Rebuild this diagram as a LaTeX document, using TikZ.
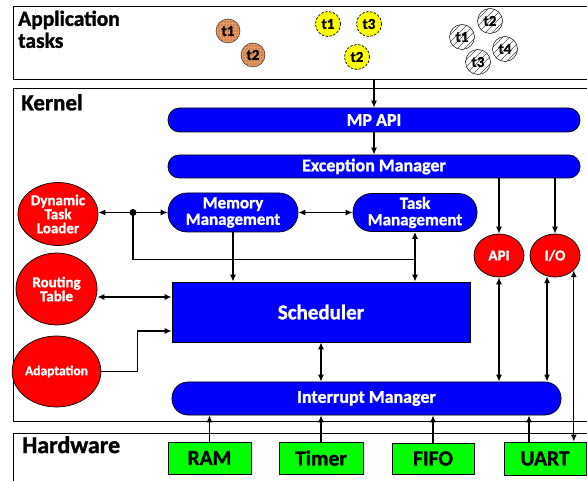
\documentclass[tikz,border=0pt]{standalone}
\usepackage{fontspec}
\setmainfont{Carlito}[BoldFeatures={FakeBold=1.3}]
\usetikzlibrary{shapes.geometric,arrows.meta}
\definecolor{kblue}{RGB}{0,0,255}
\definecolor{kred}{RGB}{255,0,0}
\definecolor{kgreen}{RGB}{0,255,0}
\definecolor{korange}{RGB}{240,152,92}
\definecolor{kyellow}{RGB}{255,255,0}
\begin{document}
\begin{tikzpicture}[x=1pt,y=-1pt,
  every node/.style={font=\bfseries},
  frame/.style={draw=black, line width=1pt},
  pill/.style={draw=black, line width=0.7pt, fill=kblue, text=white, rounded corners=#1, inner sep=0pt, align=center},
  redball/.style={ellipse, draw=black, line width=0.7pt, fill=kred, text=white, inner sep=0pt, align=center, font=\bfseries\fontsize{15}{14}\selectfont},
  hwbox/.style={rectangle, draw=black, line width=0.7pt, fill=kgreen, text=black, inner sep=0pt, font=\bfseries\fontsize{21.5}{21.5}\selectfont},
  otask/.style={circle, draw=black!80, line width=0.5pt, fill=korange, minimum size=24pt, inner sep=0pt, font=\bfseries\fontsize{15}{15}\selectfont,
    path picture={\foreach \a in {-12,-9,...,12} \foreach \b in {-12,-9,...,12} \fill[black!75] ([xshift=\a, yshift=\b]path picture bounding box.center) circle (0.55pt);}},
  ytask/.style={circle, draw=black, dash pattern=on 2.5pt off 1.5pt, line width=0.7pt, fill=kyellow, minimum size=25pt, inner sep=0pt, font=\bfseries\fontsize{15}{15}\selectfont},
  htask/.style={circle, draw=black, line width=0.5pt, fill=white, minimum size=25pt, inner sep=0pt, font=\bfseries\fontsize{15}{15}\selectfont,
    path picture={\foreach \i in {-21,-14,...,21} \draw[black!70, line width=0.45pt] ([xshift=\i-14, yshift=-14]path picture bounding box.center) -- ([xshift=\i+14, yshift=14]path picture bounding box.center);}},
  title/.style={anchor=north west, align=left, inner sep=0pt},
  conn/.style={line width=1.3pt},
  arr/.style={line width=1.3pt, -{Latex[length=7pt,width=6pt]}},
  darr/.style={line width=1.3pt, {Latex[length=7pt,width=6pt]}-{Latex[length=7pt,width=6pt]}}
]
\useasboundingbox (0,0) rectangle (587,481);
\clip (0,0) rectangle (587,481);
\fill[white] (0,0) rectangle (587,481);

% section frames
\node[frame, rectangle, minimum width=590pt, minimum height=73pt, anchor=north west, inner sep=0pt] (appbox) at (13,6) {};
\node[frame, rectangle, minimum width=590pt, minimum height=333pt, anchor=north west, inner sep=0pt] (kernelbox) at (13,88) {};
\node[frame, rectangle, minimum width=590pt, minimum height=70pt, anchor=north west, inner sep=0pt] (hwframe) at (13,433) {};

\node[title, font=\bfseries\fontsize{21.5}{22}\selectfont] (apptitle) at (18,10.5) {Application\\tasks};
\node[title, font=\bfseries\fontsize{23}{23}\selectfont] (kerneltitle) at (21,94) {Kernel};
\node[title, font=\bfseries\fontsize{24}{24}\selectfont] (hwtitle) at (22,436) {Hardware};

% application tasks
\node[otask] (o1) at (228,31) {t1};
\node[otask] (o2) at (253,55) {t2};
\node[ytask] (y1) at (328,24) {t1};
\node[ytask] (y3) at (369,24) {t3};
\node[ytask] (y2) at (357,57) {t2};
\node[htask] (h1) at (462,37) {t1};
\node[htask] (h2) at (490,21) {t2};
\node[htask] (h4) at (505,49) {t4};
\node[htask] (h3) at (478,62) {t3};

% kernel
\node[pill=11.5pt, minimum width=412pt, minimum height=24pt, font=\bfseries\fontsize{18}{18}\selectfont] (mpapi) at (374,120) {MP API};
\node[pill=11pt, minimum width=412pt, minimum height=23pt, font=\bfseries\fontsize{18}{18}\selectfont] (exc) at (374,166.5) {Exception Manager};
\node[pill=19pt, minimum width=130pt, minimum height=39pt, font=\bfseries\fontsize{17}{16.5}\selectfont] (mem) at (233,212.5) {Memory\\Management};
\node[pill=18.5pt, minimum width=124pt, minimum height=38pt, font=\bfseries\fontsize{17}{16.5}\selectfont] (task) at (415,212.5) {Task\\Management};
\node[pill=0pt, minimum width=298pt, minimum height=60pt, font=\bfseries\fontsize{21}{21}\selectfont] (sched) at (321,312) {Scheduler};
\node[pill=16pt, minimum width=389pt, minimum height=33pt, font=\bfseries\fontsize{18}{18}\selectfont] (im) at (366.5,398.5) {Interrupt Manager};

\node[redball, minimum width=80pt, minimum height=63pt] (dtl) at (58,214) {Dynamic\\Task\\Loader};
\node[redball, minimum width=81pt, minimum height=72pt] (rt) at (56.5,289) {Routing\\Table};
\node[redball, minimum width=81pt, minimum height=71pt, font=\bfseries\fontsize{13.5}{13.5}\selectfont] (adapt) at (56.5,371.5) {Adaptation};
\node[redball, minimum width=50pt, minimum height=43pt] (api) at (499,255.5) {API};
\node[redball, minimum width=50pt, minimum height=43pt] (io) at (555,255.5) {I/O};

% hardware
\node[hwbox, minimum width=83pt, minimum height=32pt] (ram) at (209.5,458) {RAM};
\node[hwbox, minimum width=84pt, minimum height=32pt] (timer) at (321,458) {Timer};
\node[hwbox, minimum width=82pt, minimum height=31pt] (fifo) at (433,458.5) {FIFO};
\node[hwbox, minimum width=82pt, minimum height=33pt] (uart) at (545,458.5) {UART};

% connectors
\draw[arr] (mpapi.north |- appbox.south) -- (mpapi.north);
\draw[arr] (mpapi.south) -- (exc.north);
\draw[arr] (exc.south -| api.north) -- (api.north);
\draw[arr] (exc.south -| io.north) -- (io.north);
\draw[darr] (mem.east) -- (mem.east -| task.west);

\coordinate (dot) at (133,212.5);
\path (task.south) ++(0,28) coordinate (j);
\draw[arr] (dot) -- (dot -| dtl.east);
\draw[arr] (dot) -- (dot -| mem.west);
\fill (dot) circle (3.5pt);
\draw[conn] (dot) |- (j);
\draw[darr] (task.south) -- (task.south |- sched.north);
\draw[arr] (mem.south) -- (mem.south |- sched.north);

\draw[darr] ([yshift=-8pt]rt.east) -- ([yshift=-8pt]rt.east -| sched.west);
\draw[arr] (adapt.east) -- ++(36,0) |- ([yshift=-19pt]sched.west);

\draw[darr] (sched.south) -- (sched.south |- im.north);
\draw[darr] (api.south) -- (api.south |- im.north);
\draw[darr] (io.249) -- (io.249 |- im.north);
\draw[darr] (io.322) -- (io.322 |- uart.north);

\draw[arr] (ram.north) -- (ram.north |- im.south);
\draw[arr] (timer.north) -- (timer.north |- im.south);
\draw[arr] (fifo.north) -- (fifo.north |- im.south);
\draw[arr] ([xshift=-16pt]uart.north) -- ([xshift=-16pt]uart.north |- im.south);
\end{tikzpicture}
\end{document}
